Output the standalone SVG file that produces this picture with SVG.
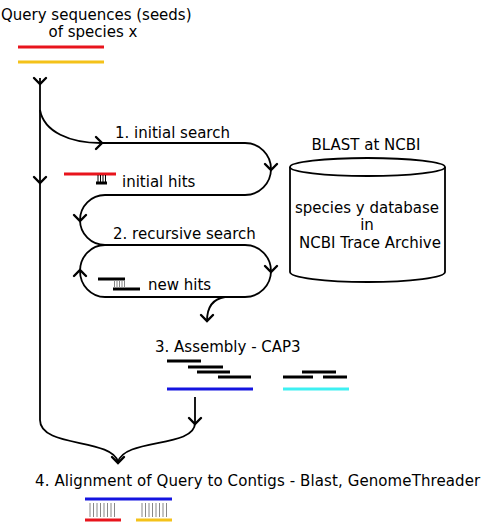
<svg xmlns="http://www.w3.org/2000/svg" xmlns:xlink="http://www.w3.org/1999/xlink" width="483" height="529" viewBox="0 0 483 529">
<style>
text{font-family:"DejaVu Sans","Liberation Sans",sans-serif;font-size:15px;fill:#000}
.c{text-anchor:middle}
.ln{fill:none;stroke:#000;stroke-width:1.8}
.ah{fill:none;stroke:#000;stroke-width:2.4;stroke-linecap:round;stroke-linejoin:miter}
.bar{stroke:#000;stroke-width:3}
.red{stroke:#e8141c;stroke-width:3}
.yel{stroke:#f4c21a;stroke-width:3}
.blue{stroke:#1414e0;stroke-width:3}
.cyan{stroke:#3ef0f2;stroke-width:3}
.tick{stroke:#888;stroke-width:1}
.cyl{fill:#fff;stroke:#000;stroke-width:1.8}
</style>
<defs>
<path id="ah" d="M-6,-6 L0,0 L-6,6"/>
</defs>
<rect width="483" height="529" fill="#fff"/>

<g id="query">
<text x="1" y="20">Query sequences (seeds)</text>
<text class="c" x="93" y="37">of species x</text>
<line class="red" x1="18" y1="47" x2="104" y2="47"/>
<line class="yel" x1="18" y1="62" x2="104" y2="62"/>
</g>

<g id="blast">
<text class="c" x="366" y="150">BLAST at NCBI</text>
<path class="cyl" d="M290,167 V272 A77.5,10 0 0 0 445,272 V167"/>
<ellipse class="cyl" cx="367.5" cy="167" rx="77.5" ry="9"/>
<text class="c" x="367" y="213">species y database</text>
<text class="c" x="367" y="230">in</text>
<text class="c" x="370" y="248">NCBI Trace Archive</text>
</g>

<g id="initial-search">
<text x="115" y="138">1. initial search</text>
</g>

<g id="initial-hits">
<line class="red" x1="64" y1="174" x2="116" y2="174"/>
<g class="tick" style="stroke:#000">
<line x1="98" y1="175" x2="98" y2="182"/>
<line x1="100.5" y1="175" x2="100.5" y2="182"/>
<line x1="103" y1="175" x2="103" y2="182"/>
<line x1="105.5" y1="175" x2="105.5" y2="182"/>
</g>
<line class="bar" x1="96" y1="183" x2="107" y2="183"/>
<text x="122" y="187">initial hits</text>
</g>

<g id="recursive-search">
<text x="113" y="239">2. recursive search</text>
</g>

<g id="new-hits">
<line class="bar" x1="98" y1="279" x2="125" y2="279"/>
<line class="bar" x1="113" y1="289" x2="140" y2="289"/>
<g class="tick">
<line x1="114.5" y1="280" x2="114.5" y2="288"/>
<line x1="117" y1="280" x2="117" y2="288"/>
<line x1="119.5" y1="280" x2="119.5" y2="288"/>
<line x1="122" y1="280" x2="122" y2="288"/>
<line x1="124.5" y1="280" x2="124.5" y2="288"/>
</g>
<text x="148" y="290">new hits</text>
</g>

<g id="assembly">
<text x="155" y="352">3. Assembly - CAP3</text>
<line class="bar" x1="167" y1="361" x2="201" y2="361"/>
<line class="bar" x1="188" y1="367" x2="223" y2="367"/>
<line class="bar" x1="197" y1="372" x2="230" y2="372"/>
<line class="bar" x1="218" y1="377" x2="251" y2="377"/>
<line class="blue" x1="167" y1="389" x2="253" y2="389"/>
<line class="bar" x1="302" y1="372" x2="336" y2="372"/>
<line class="bar" x1="283" y1="377" x2="313" y2="377"/>
<line class="bar" x1="323" y1="377" x2="347" y2="377"/>
<line class="cyan" x1="283" y1="389" x2="349" y2="389"/>
</g>

<g id="alignment">
<text x="35" y="486" style="letter-spacing:0.1px">4. Alignment of Query to Contigs - Blast, GenomeThreader</text>
<line class="blue" x1="85" y1="499" x2="172" y2="499"/>
<g class="tick">
<line x1="90" y1="503" x2="90" y2="517"/>
<line x1="93.5" y1="503" x2="93.5" y2="517"/>
<line x1="97" y1="503" x2="97" y2="517"/>
<line x1="100.5" y1="503" x2="100.5" y2="517"/>
<line x1="104" y1="503" x2="104" y2="517"/>
<line x1="107.5" y1="503" x2="107.5" y2="517"/>
<line x1="111" y1="503" x2="111" y2="517"/>
<line x1="114.5" y1="503" x2="114.5" y2="517"/>
<line x1="142" y1="503" x2="142" y2="517"/>
<line x1="145.5" y1="503" x2="145.5" y2="517"/>
<line x1="149" y1="503" x2="149" y2="517"/>
<line x1="152.5" y1="503" x2="152.5" y2="517"/>
<line x1="156" y1="503" x2="156" y2="517"/>
<line x1="159.5" y1="503" x2="159.5" y2="517"/>
<line x1="163" y1="503" x2="163" y2="517"/>
<line x1="166.5" y1="503" x2="166.5" y2="517"/>
</g>
<line class="red" x1="85" y1="520" x2="121" y2="520"/>
<line class="yel" x1="136" y1="520" x2="172" y2="520"/>
</g>

<g id="connectors">
<path class="ln" d="M40,78 V420 C40,448 112,438 118,462"/>
<path class="ln" d="M40,110 C44,132 70,143 101,143"/>
<path class="ln" d="M101,143 H245 A26,26 0 0 1 245,195 H105 A25,25 0 0 0 105,245 H245 A26,26 0 0 1 245,297 H105 A25,26 0 0 1 105,245"/>
<path class="ln" d="M225,297 C212,299 207,309 207,321"/>
<path class="ln" d="M195,397 V423 C195,448 124,438 118,462"/>
<g class="ah">
<use xlink:href="#ah" transform="translate(40,84) rotate(90)"/>
<use xlink:href="#ah" transform="translate(40,183) rotate(90)"/>
<use xlink:href="#ah" transform="translate(102,143)"/>
<use xlink:href="#ah" transform="translate(271,170) rotate(90)"/>
<use xlink:href="#ah" transform="translate(80,221) rotate(90)"/>
<use xlink:href="#ah" transform="translate(271,272) rotate(90)"/>
<use xlink:href="#ah" transform="translate(80,270) rotate(-90)"/>
<use xlink:href="#ah" transform="translate(207,321) rotate(90)"/>
<use xlink:href="#ah" transform="translate(195,424) rotate(90)"/>
<use xlink:href="#ah" transform="translate(118,463) rotate(90)"/>
</g>
</g>
</svg>
